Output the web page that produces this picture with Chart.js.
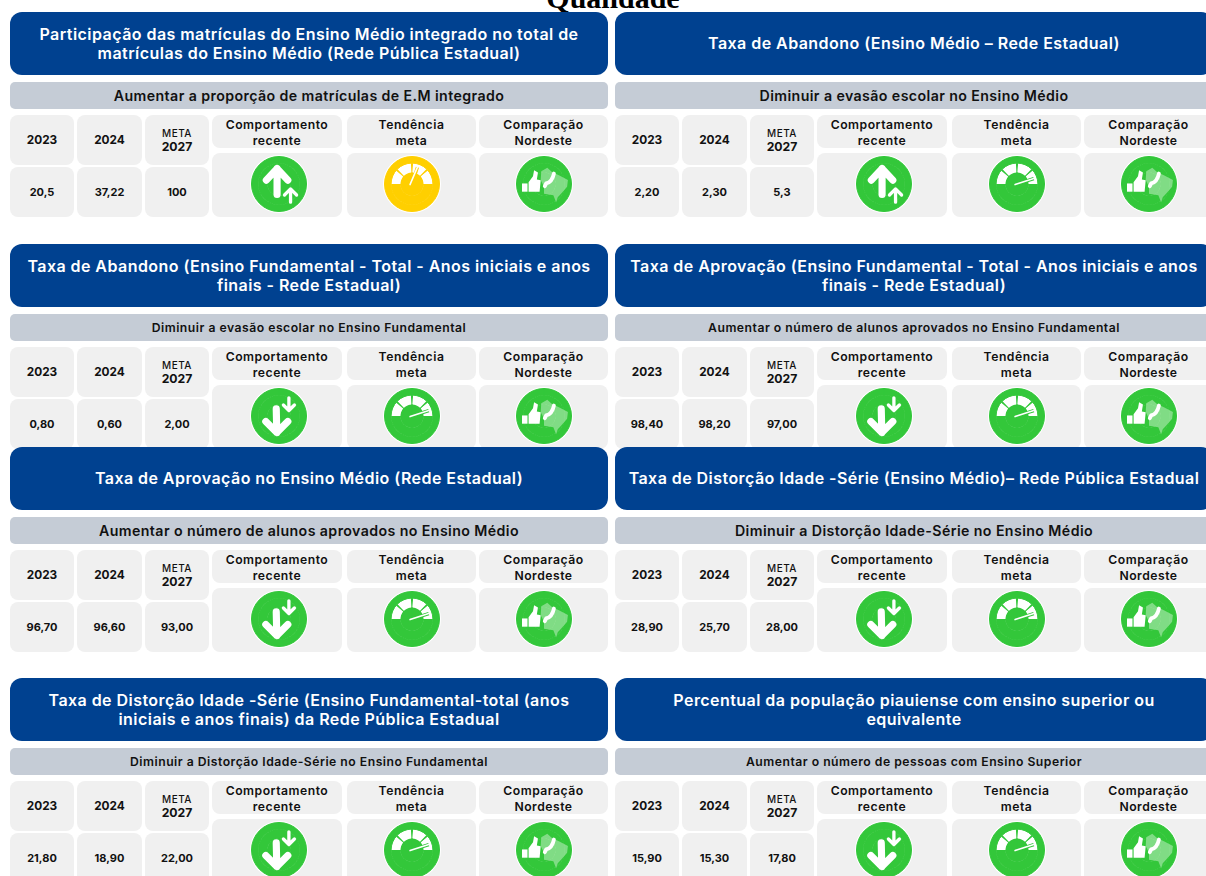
<!DOCTYPE html>
<html lang="pt-BR">
<head>
    <meta charset="UTF-8">
    <title>Qualidade</title>
    <script src="https://cdn.jsdelivr.net/npm/chart.js"></script>
    <style>
        html, body { margin: 0; height: 100%; background: #fff; overflow: hidden; }
        body { position: relative; width: 1206px; height: 876px; font-family: 'Inter', sans-serif; color: #111; }
        #heading { position: absolute; left: 0; width: 1226px; top: -19px; text-align: center; font: bold 30px 'Liberation Serif', serif; color: #000; }
        .card { position: absolute; width: 598px; height: 205px; }
        .cell { position: absolute; background: #f0f0f0; border-radius: 8px; display: flex; align-items: center; justify-content: center; text-align: center; font-weight: 600; }
        .title { position: absolute; left: 0; top: 0; width: 598px; height: 63px; background: #004190; border-radius: 12px; color: #fff; display: flex; align-items: center; justify-content: center; text-align: center; font-size: 16px; letter-spacing: 0.45px; line-height: 19px; font-weight: 600; padding: 0 12px; box-sizing: border-box; z-index: 2; }
        .subtitle { position: absolute; left: 0; top: 70px; width: 598px; height: 27px; background: #c5ccd6; border-radius: 5px; display: flex; align-items: center; justify-content: center; font-size: 14.2px; letter-spacing: 0.4px; font-weight: 600; }
        .subtitle.small { font-size: 12.2px; letter-spacing: 0.5px; }
        .year { font-size: 11.8px; font-weight: 700; }
        .val { font-size: 11px; font-weight: 700; }
        .meta { font-size: 12.2px; line-height: 14px; font-weight: 700; }
        .meta small { display: block; font-size: 10px; letter-spacing: 0.5px; font-weight: 500; }
        .head { font-size: 12.2px; letter-spacing: 0.5px; line-height: 16px; padding-top: 2px; box-sizing: border-box; }
        .icon-wrap { position: absolute; width: 58px; height: 58px; border-radius: 50%; background: #fff; }
        .icon-wrap canvas { position: absolute; left: 1px; top: 1px; }
    </style>
</head>
<body>
    <div id="heading">Qualidade</div>
    <div id="board"></div>

    <script>
        var titles = [
            'Participação das matrículas do Ensino Médio integrado no total de matrículas do Ensino Médio (Rede Pública Estadual)',
            'Taxa de Abandono (Ensino Médio – Rede Estadual)',
            'Taxa de Abandono (Ensino Fundamental - Total - Anos iniciais e anos finais - Rede Estadual)',
            'Taxa de Aprovação (Ensino Fundamental - Total - Anos iniciais e anos finais - Rede Estadual)',
            'Taxa de Aprovação no Ensino Médio (Rede Estadual)',
            'Taxa de Distorção Idade -Série (Ensino Médio)– Rede Pública Estadual',
            'Taxa de Distorção Idade -Série (Ensino Fundamental-total (anos iniciais e anos finais) da Rede Pública Estadual',
            'Percentual da população piauiense com ensino superior ou equivalente'
        ];
        var goals = [
            'Aumentar a proporção de matrículas de E.M integrado',
            'Diminuir a evasão escolar no Ensino Médio',
            'Diminuir a evasão escolar no Ensino Fundamental',
            'Aumentar o número de alunos aprovados no Ensino Fundamental',
            'Aumentar o número de alunos aprovados no Ensino Médio',
            'Diminuir a Distorção Idade-Série no Ensino Médio',
            'Diminuir a Distorção Idade-Série no Ensino Fundamental',
            'Aumentar o número de pessoas com Ensino Superior'
        ];
        var values2023 = ['20,5', '2,20', '0,80', '98,40', '96,70', '28,90', '21,80', '15,90'];
        var values2024 = ['37,22', '2,30', '0,60', '98,20', '96,60', '25,70', '18,90', '15,30'];
        var meta2027 = ['100', '5,3', '2,00', '97,00', '93,00', '28,00', '22,00', '17,80'];
        var behaviour = ['up', 'up', 'down', 'down', 'down', 'down', 'down', 'down'];
        // needle position on the 0-100 dial
        var needle = [60, 90, 90, 90, 90, 90, 90, 90];
        var dialStatus = ['yellow', 'green', 'green', 'green', 'green', 'green', 'green', 'green'];
        var dialSegments = [40, 6, 41, 6, 41, 6, 40, 180];
        var headers = [['Comportamento', 'recente'], ['Tendência', 'meta'], ['Comparação', 'Nordeste']];

        var GREEN = '#33c73a';
        var YELLOW = '#ffcf00';
        var cardLefts = [10, 615];
        var cardTops = [12, 244, 447, 678];
        var smallGoals = [2, 3, 6, 7];

        function strokeArrow(ctx, r, a, width) {
            ctx.lineWidth = width * r;
            ctx.beginPath();
            ctx.moveTo(a[0] * r, a[1] * r);
            ctx.lineTo(a[2] * r, a[3] * r);
            ctx.moveTo(a[4] * r, a[5] * r);
            ctx.lineTo(a[2] * r, a[3] * r);
            ctx.lineTo(a[6] * r, a[7] * r);
            ctx.stroke();
        }

        function fillShape(ctx, r, pts) {
            ctx.beginPath();
            pts.forEach(function(p, i) {
                if (i === 0) ctx.moveTo(p[0] * r, p[1] * r);
                else ctx.lineTo(p[0] * r, p[1] * r);
            });
            ctx.closePath();
            ctx.fill();
        }

        // glyphs on top of the disc, in units of the disc radius
        var glyphPlugin = {
            id: 'glyph',
            afterDatasetsDraw: function(chart, args, opts) {
                var ctx = chart.ctx;
                var arc = chart.getDatasetMeta(0).data[0];
                var r = arc.outerRadius;
                ctx.save();
                ctx.translate(arc.x, arc.y);
                ctx.strokeStyle = '#fff';
                ctx.fillStyle = '#fff';
                ctx.lineCap = 'round';
                ctx.lineJoin = 'round';

                if (opts.kind === 'up') {
                    strokeArrow(ctx, r, [-0.07, 0.38, -0.07, -0.56, -0.46, -0.14, 0.32, -0.14], 0.26);
                    strokeArrow(ctx, r, [0.42, 0.66, 0.42, 0.18, 0.2, 0.4, 0.64, 0.4], 0.12);
                } else if (opts.kind === 'down') {
                    strokeArrow(ctx, r, [-0.1, -0.26, -0.08, 0.6, -0.48, 0.2, 0.32, 0.2], 0.26);
                    strokeArrow(ctx, r, [0.36, -0.66, 0.36, -0.2, 0.16, -0.4, 0.56, -0.4], 0.12);
                } else if (opts.kind === 'map') {
                    fillShape(ctx, r, [[-0.8, -0.02], [-0.6, -0.02], [-0.6, 0.28], [-0.8, 0.28]]);
                    fillShape(ctx, r, [[-0.56, -0.06], [-0.4, -0.28], [-0.36, -0.5], [-0.22, -0.42], [-0.26, -0.16], [-0.12, -0.14], [-0.16, 0.28], [-0.56, 0.28]]);
                    ctx.fillStyle = 'rgba(255, 255, 255, 0.38)';
                    fillShape(ctx, r, [[-0.1, -0.46], [0.12, -0.59], [0.29, -0.44], [0.56, -0.31], [0.87, -0.15], [0.84, 0.1], [0.62, 0.35], [0.5, 0.48], [0.44, 0.66], [0.34, 0.41], [0, 0.35], [0, 0.1], [-0.12, -0.15]]);
                    ctx.lineWidth = 0.14 * r;
                    ctx.beginPath();
                    ctx.moveTo(0.36 * r, -0.38 * r);
                    ctx.quadraticCurveTo(0.3 * r, -0.08 * r, 0.08 * r, -0.02 * r);
                    ctx.lineTo(0.03 * r, 0.08 * r);
                    ctx.stroke();
                } else {
                    var angle = Math.PI * (1 - opts.needle / 100);
                    var tipX = Math.cos(angle) * 0.64 * r;
                    var tipY = -Math.sin(angle) * 0.64 * r;
                    ctx.lineCap = 'butt';
                    ctx.strokeStyle = opts.color;
                    ctx.lineWidth = 0.12 * r;
                    ctx.beginPath();
                    ctx.moveTo(0, 0);
                    ctx.lineTo(tipX, tipY);
                    ctx.stroke();
                    ctx.strokeStyle = '#fff';
                    ctx.lineCap = 'round';
                    ctx.lineWidth = 0.06 * r;
                    ctx.beginPath();
                    ctx.moveTo(-0.07 * r, 0.02 * r);
                    ctx.lineTo(tipX, tipY);
                    ctx.stroke();
                }
                ctx.restore();
            }
        };

        function drawIcon(canvas, kind, color, needleValue) {
            var isDial = kind === 'dial';
            var midColors = isDial
                ? dialSegments.map(function(s, i) { return (i % 2 === 0 && i < 7) ? '#fff' : color; })
                : [color];
            var rings = [
                { data: [1], backgroundColor: [color], borderColor: color, borderWidth: 1, weight: 24 },
                {
                    data: isDial ? dialSegments : [1],
                    backgroundColor: midColors,
                    borderWidth: 0,
                    weight: 34,
                    rotation: isDial ? -90 : 0
                },
                { data: [1], backgroundColor: [color], borderColor: color, borderWidth: 1, weight: 42 }
            ];

            new Chart(canvas.getContext('2d'), {
                type: 'doughnut',
                data: { datasets: rings },
                options: {
                    responsive: false,
                    animation: false,
                    cutout: 0,
                    layout: { padding: 0 },
                    events: [],
                    plugins: {
                        legend: { display: false },
                        tooltip: { enabled: false },
                        glyph: { kind: kind, color: color, needle: needleValue }
                    }
                },
                plugins: [glyphPlugin]
            });
        }

        function addCell(card, cls, x, y, w, h, html) {
            var el = document.createElement('div');
            el.className = 'cell ' + cls;
            el.style.cssText = 'left:' + x + 'px;top:' + y + 'px;width:' + w + 'px;height:' + h + 'px';
            el.innerHTML = html;
            card.appendChild(el);
            return el;
        }

        var board = document.getElementById('board');
        titles.forEach(function(title, i) {
            var card = document.createElement('div');
            card.className = 'card';
            card.style.left = cardLefts[i % 2] + 'px';
            card.style.top = cardTops[Math.floor(i / 2)] + 'px';
            card.style.zIndex = i < 4 ? 1 : 2;

            var t = document.createElement('div');
            t.className = 'title';
            t.textContent = title;
            card.appendChild(t);

            var g = document.createElement('div');
            g.className = 'subtitle' + (smallGoals.indexOf(i) >= 0 ? ' small' : '');
            g.textContent = goals[i];
            card.appendChild(g);

            // value columns
            addCell(card, 'year', 0, 103, 64, 50, '2023');
            addCell(card, 'year', 67, 103, 65, 50, '2024');
            addCell(card, 'meta', 135, 103, 64, 50, '<div><small>META</small>2027</div>');
            addCell(card, 'val', 0, 155, 64, 50, values2023[i]);
            addCell(card, 'val', 67, 155, 65, 50, values2024[i]);
            addCell(card, 'val', 135, 155, 64, 50, meta2027[i]);

            // indicator columns
            var colX = [202, 337, 469];
            var colW = [130, 129, 129];
            var iconShift = [2, 0, 0];
            headers.forEach(function(h, c) {
                addCell(card, 'head', colX[c], 103, colW[c], 33, h[0] + '<br>' + h[1]);
                var cell = addCell(card, '', colX[c], 141, colW[c], 64, '');
                var wrap = document.createElement('div');
                wrap.className = 'icon-wrap';
                wrap.style.left = (colW[c] / 2 - 29 + iconShift[c]) + 'px';
                wrap.style.top = '2px';
                var cv = document.createElement('canvas');
                cv.width = 56;
                cv.height = 56;
                wrap.appendChild(cv);
                cell.appendChild(wrap);

                if (c === 0) drawIcon(cv, behaviour[i], GREEN, 0);
                if (c === 1) drawIcon(cv, 'dial', dialStatus[i] === 'yellow' ? YELLOW : GREEN, needle[i]);
                if (c === 2) drawIcon(cv, 'map', GREEN, 0);
            });

            board.appendChild(card);
        });
    </script>
</body>
</html>
